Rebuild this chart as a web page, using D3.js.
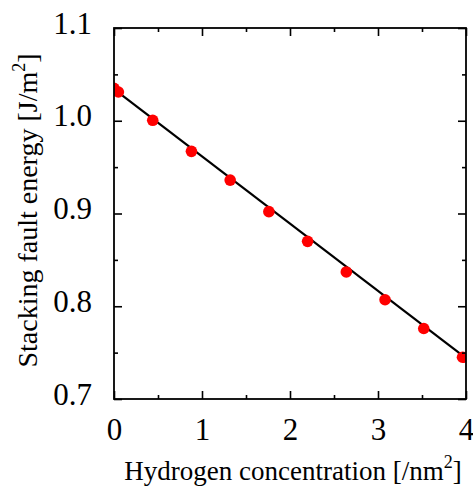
<!DOCTYPE html>
<html>
<head>
<meta charset="utf-8">
<script src="https://cdn.jsdelivr.net/npm/d3@7/dist/d3.min.js"></script>
<style>
  html, body { margin: 0; padding: 0; background: #fff; }
  svg { display: block; }
  text { font-family: "Liberation Serif", "Times New Roman", serif; fill: #000; }
</style>
</head>
<body>
<script>
// ---- data ----
const hydrogen = [0, 0.05, 0.44, 0.88, 1.32, 1.76, 2.2, 2.64, 3.08, 3.52, 3.96];
const sfe      = [1.035, 1.031, 1.0005, 0.967, 0.936, 0.902, 0.870, 0.837, 0.807, 0.776, 0.745];
const fitX = [0, 4];
const fitY = [1.034, 0.744];
const xTicks = [0, 1, 2, 3, 4];
const xMinor = [0.5, 1.5, 2.5, 3.5];
const yTicks = [0.7, 0.8, 0.9, 1.0, 1.1];
const yMinor = [0.75, 0.85, 0.95, 1.05];
const xTitle = "Hydrogen concentration [/nm";
const yTitle = "Stacking fault energy [J/m";

const W = 473, H = 490;
const m = { left: 114, right: 7, top: 28, bottom: 91 };
const iw = W - m.left - m.right, ih = H - m.top - m.bottom;

const svg = d3.select("body").append("svg").attr("width", W).attr("height", H);
const g = svg.append("g").attr("transform", `translate(${m.left},${m.top})`);

const x = d3.scaleLinear().domain([0, 4]).range([0, iw]);
const y = d3.scaleLinear().domain([0.7, 1.1]).range([ih, 0]);

svg.append("defs").append("clipPath").attr("id", "clip")
  .append("rect").attr("width", iw).attr("height", ih);

const plot = g.append("g").attr("clip-path", "url(#clip)");

// fit line
plot.append("path")
  .datum(fitX.map((d, i) => [d, fitY[i]]))
  .attr("d", d3.line().x(d => x(d[0])).y(d => y(d[1])))
  .attr("fill", "none").attr("stroke", "#000").attr("stroke-width", 2.2);

// points
plot.selectAll("circle").data(hydrogen.map((d, i) => [d, sfe[i]]))
  .join("circle")
  .attr("cx", d => x(d[0])).attr("cy", d => y(d[1]))
  .attr("r", 5.8).attr("fill", "#ff0000");

const fmtY = d3.format(".1f");
const major = 8, minor = 4;

function styleAxis(sel) {
  sel.select(".domain").remove();
  sel.selectAll(".tick line").attr("stroke", "#000").attr("stroke-width", 1.6);
}

// bottom axis
const bx = g.append("g").attr("transform", `translate(0,${ih})`)
  .call(d3.axisBottom(x).tickValues(xTicks).tickSize(-major).tickPadding(0).tickFormat(d3.format("d")));
styleAxis(bx);
bx.selectAll(".tick text").attr("y", 41).attr("dy", 0).attr("font-size", 31);
g.append("g").attr("transform", `translate(0,${ih})`)
  .call(d3.axisBottom(x).tickValues(xMinor).tickSize(-minor).tickFormat(""))
  .call(styleAxis);

// top axis
g.append("g").call(d3.axisTop(x).tickValues(xTicks).tickSize(-major).tickFormat("")).call(styleAxis);
g.append("g").call(d3.axisTop(x).tickValues(xMinor).tickSize(-minor).tickFormat("")).call(styleAxis);

// left axis
const ly = g.append("g")
  .call(d3.axisLeft(y).tickValues(yTicks).tickSize(-major).tickPadding(0).tickFormat(fmtY));
styleAxis(ly);
ly.selectAll(".tick text").attr("x", -22).attr("dy", 5).attr("font-size", 31);
g.append("g").call(d3.axisLeft(y).tickValues(yMinor).tickSize(-minor).tickFormat("")).call(styleAxis);

// right axis
g.append("g").attr("transform", `translate(${iw},0)`)
  .call(d3.axisRight(y).tickValues(yTicks).tickSize(-major).tickFormat("")).call(styleAxis);
g.append("g").attr("transform", `translate(${iw},0)`)
  .call(d3.axisRight(y).tickValues(yMinor).tickSize(-minor).tickFormat("")).call(styleAxis);

// frame
g.append("rect").attr("width", iw).attr("height", ih)
  .attr("fill", "none").attr("stroke", "#000").attr("stroke-width", 1.8);

// titles
const xt = svg.append("text").attr("x", m.left + iw / 2 + 3).attr("y", 480)
  .attr("text-anchor", "middle").attr("font-size", 27);
xt.append("tspan").text(xTitle);
xt.append("tspan").attr("dy", -12).attr("font-size", 18).text("2");
xt.append("tspan").attr("dy", 12).text("]");

const yt = svg.append("text")
  .attr("transform", `translate(37,${m.top + ih / 2 - 3}) rotate(-90)`)
  .attr("text-anchor", "middle").attr("font-size", 28);
yt.append("tspan").text(yTitle);
yt.append("tspan").attr("dy", -12).attr("font-size", 18).text("2");
yt.append("tspan").attr("dy", 12).text("]");
</script>
</body>
</html>
